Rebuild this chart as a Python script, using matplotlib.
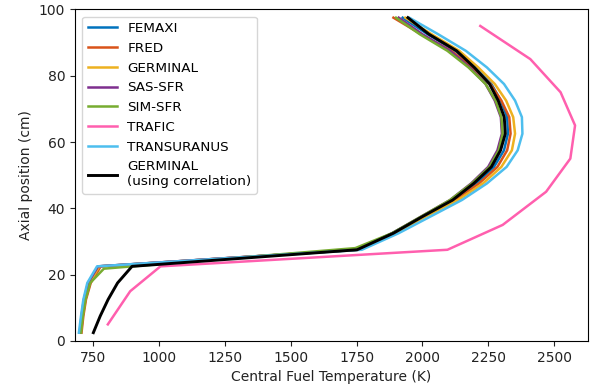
import matplotlib
matplotlib.use("Agg")
import matplotlib.pyplot as plt

# Axial height of nodes (cm)
z_nodes = [2.5, 7.5, 12.5, 17.5, 22.5, 27.5, 32.5, 37.5, 42.5, 47.5,
           52.5, 57.5, 62.5, 67.5, 72.5, 77.5, 82.5, 87.5, 92.5, 97.5]

# Central fuel temperature per code (K)
t_femaxi = [700, 707, 716, 732, 770, 1752, 1885, 2000, 2120, 2205,
            2272, 2310, 2325, 2322, 2298, 2262, 2200, 2125, 2020, 1925]
t_fred = [705, 712, 722, 740, 778, 1752, 1888, 2005, 2125, 2215,
          2285, 2322, 2335, 2330, 2300, 2258, 2190, 2110, 1995, 1890]
t_germinal = [702, 709, 719, 736, 772, 1755, 1895, 2012, 2135, 2230,
              2300, 2340, 2352, 2345, 2318, 2275, 2212, 2140, 2035, 1935]
t_sas = [698, 705, 714, 730, 768, 1748, 1885, 1995, 2105, 2185,
         2250, 2285, 2302, 2298, 2275, 2240, 2180, 2105, 2000, 1910]
z_sim = [2.5, 7.5, 12.5, 17.5, 21.8, 28.0, 32.5, 37.5, 42.5, 47.5,
         52.5, 57.5, 62.5, 67.5, 72.5, 77.5, 82.5, 87.5, 92.5, 97.5]
t_sim = [703, 710, 720, 738, 790, 1745, 1885, 1995, 2105, 2188,
         2255, 2290, 2305, 2300, 2278, 2240, 2175, 2095, 1990, 1900]
t_transuranus = [695, 703, 712, 727, 764, 1770, 1910, 2030, 2150, 2245,
                 2320, 2362, 2380, 2378, 2352, 2310, 2245, 2165, 2060, 1950]
t_germinal_corr = [750, 776, 806, 842, 897, 1752, 1890, 2000, 2115, 2195,
                   2262, 2297, 2315, 2311, 2288, 2255, 2197, 2130, 2025, 1945]

z_trafic = [5, 15, 22.5, 27.5, 35, 45, 55, 65, 75, 85, 95]
t_trafic = [805, 890, 1005, 2095, 2305, 2470, 2562, 2580, 2525, 2410, 2220]

x_ticks = [750, 1000, 1250, 1500, 1750, 2000, 2250, 2500]
y_ticks = [0, 20, 40, 60, 80, 100]

fig = plt.figure(figsize=(5.9, 3.91), dpi=100)
ax = fig.add_axes([0.127, 0.128, 0.870, 0.848])

lw = 1.8
ax.plot(t_femaxi, z_nodes, color="#0072bd", lw=lw, label="FEMAXI")
ax.plot(t_fred, z_nodes, color="#d95319", lw=lw, label="FRED")
ax.plot(t_germinal, z_nodes, color="#edb120", lw=lw, label="GERMINAL")
ax.plot(t_sas, z_nodes, color="#7e2f8e", lw=lw, label="SAS-SFR")
ax.plot(t_sim, z_sim, color="#77ac30", lw=lw, label="SIM-SFR")
ax.plot(t_trafic, z_trafic, color="#ff5fae", lw=lw, label="TRAFIC")
ax.plot(t_transuranus, z_nodes, color="#4dbeee", lw=lw, label="TRANSURANUS")
ax.plot(t_germinal_corr, z_nodes, color="black", lw=2.1,
        label="GERMINAL\n(using correlation)")

ax.set_xlim(680, 2630)
ax.set_ylim(0, 100)
ax.set_xticks(x_ticks)
ax.set_yticks(y_ticks)
ax.tick_params(labelsize=10, colors="#222222")
ax.set_xlabel("Central Fuel Temperature (K)", fontsize=10, color="#222222")
ax.set_ylabel("Axial position (cm)", fontsize=10, color="#222222")

ax.legend(loc="upper left", fontsize=9.7, handlelength=2.2,
          handletextpad=0.75, labelspacing=0.5, borderaxespad=0.55)

fig.savefig("out.png", dpi=100)
